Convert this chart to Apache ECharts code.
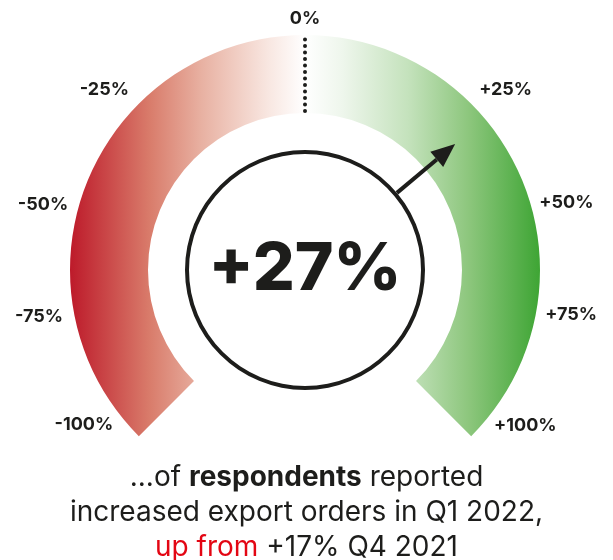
<!DOCTYPE html>
<html>
<head>
<meta charset="utf-8">
<script src="https://cdn.jsdelivr.net/npm/echarts@6/dist/echarts.min.js"></script>
<style>
  html, body { margin: 0; background: #fff; }
  #chart { width: 613px; height: 560px; }
</style>
</head>
<body>
<div id="chart"></div>
<script>
// data
const currentValue = 27;        // % of respondents, Q1 2022
const previousValue = 17;       // Q4 2021
const tickLabels = ['-100%', '-75%', '-50%', '-25%', '0%', '+25%', '+50%', '+75%', '+100%'];
// where each tick label sits (degrees, counter-clockwise from 3 o'clock)
const labelAngles = [215, 190, 166, 138, 90, 42, 14.5, -9.6, -35.3];

const FONT = 'Inter, "Open Sans", sans-serif';
const cx = 305, cy = 270;
const outerR = 235, bandW = 78, innerR = outerR - bandW;
const ringR = 118;
const arrowAngle = 40 * Math.PI / 180;

const chart = echarts.init(document.getElementById('chart'));

const arcGradient = new echarts.graphic.LinearGradient(70, 0, 540, 0, [
  { offset: 0, color: '#bd1a2a' },
  { offset: 0.17, color: '#d97c6b' },
  { offset: 0.28, color: '#e8b1a2' },
  { offset: 0.42, color: '#f8e6e0' },
  { offset: 0.5, color: '#ffffff' },
  { offset: 0.58, color: '#eef6ec' },
  { offset: 0.72, color: '#c4e2bc' },
  { offset: 0.85, color: '#8cc67c' },
  { offset: 1, color: '#3ea534' }
], true);

// helper: polar -> pixel
const pt = (r, a) => [cx + r * Math.cos(a), cy - r * Math.sin(a)];

const labelGraphics = tickLabels.map((t, i) => {
  const a = labelAngles[i] * Math.PI / 180;
  const p = pt(t === '0%' ? 251 : 270, a);
  return {
    type: 'text',
    z: 100,
    x: p[0], y: p[1],
    style: {
      text: t, fill: '#1d1d1b', font: '700 18px ' + FONT,
      align: 'center', verticalAlign: 'middle'
    }
  };
});

const zeroA = Math.PI / 2;
const a0 = pt(innerR + 2, zeroA), a1 = pt(outerR - 1, zeroA);
const arrStart = pt(ringR + 2, arrowAngle);
const arrBase = pt(172, arrowAngle);
const arrTip = pt(196, arrowAngle);
const perp = [Math.sin(arrowAngle), Math.cos(arrowAngle)];
const hw = 10;

const options = {
  backgroundColor: '#fff',
  title: {
    left: 'center',
    top: 455,
    text: '{n|...of }{b|respondents}{n| reported}\n{n|increased export orders in Q1 2022,}\n{r|up from }{n|+' + previousValue + '% Q4 2021}',
    textStyle: {
      align: 'center',
      rich: {
        n: { fontFamily: FONT, fontSize: 28, fontWeight: 400, color: '#1d1d1b', lineHeight: 35 },
        b: { fontFamily: FONT, fontSize: 28, fontWeight: 700, color: '#1d1d1b', lineHeight: 35 },
        r: { fontFamily: FONT, fontSize: 28, fontWeight: 400, color: '#e30613', lineHeight: 35 }
      }
    }
  },
  series: [
    {
      type: 'gauge',
      center: [cx, cy],
      radius: outerR,
      startAngle: 225,
      endAngle: -45,
      min: -100,
      max: 100,
      axisLine: { lineStyle: { width: bandW, color: [[1, arcGradient]] } },
      pointer: { show: false },
      progress: { show: false },
      splitLine: { show: false },
      axisTick: { show: false },
      axisLabel: { show: false },
      title: { show: false },
      detail: {
        offsetCenter: [0, 0],
        valueAnimation: false,
        formatter: v => '+' + v + '%',
        fontFamily: FONT,
        fontSize: 66,
        fontWeight: 800,
        color: '#1d1d1b'
      },
      data: [{ value: currentValue }],
      animation: false
    },
    {
      type: 'gauge',
      center: [cx, cy],
      radius: ringR + 2,
      startAngle: 90,
      endAngle: -270,
      axisLine: { lineStyle: { width: 4, color: [[1, '#1d1d1b']] } },
      pointer: { show: false },
      splitLine: { show: false },
      axisTick: { show: false },
      axisLabel: { show: false },
      title: { show: false },
      detail: { show: false },
      data: [{ value: 0 }],
      animation: false
    }
  ],
  graphic: [
    ...labelGraphics,
    {
      type: 'line',
      z: 100,
      shape: { x1: a0[0], y1: a0[1], x2: a1[0], y2: a1[1] },
      style: { stroke: '#1d1d1b', lineWidth: 4, lineCap: 'round', lineDash: [0.1, 6.4] }
    },
    {
      type: 'line',
      z: 100,
      shape: { x1: arrStart[0], y1: arrStart[1], x2: arrBase[0], y2: arrBase[1] },
      style: { stroke: '#1d1d1b', lineWidth: 4 }
    },
    {
      type: 'polygon',
      z: 100,
      shape: {
        points: [
          arrTip,
          [arrBase[0] + perp[0] * hw, arrBase[1] + perp[1] * hw],
          [arrBase[0] - perp[0] * hw, arrBase[1] - perp[1] * hw]
        ]
      },
      style: { fill: '#1d1d1b' }
    }
  ]
};

chart.setOption(options);
</script>
</body>
</html>
